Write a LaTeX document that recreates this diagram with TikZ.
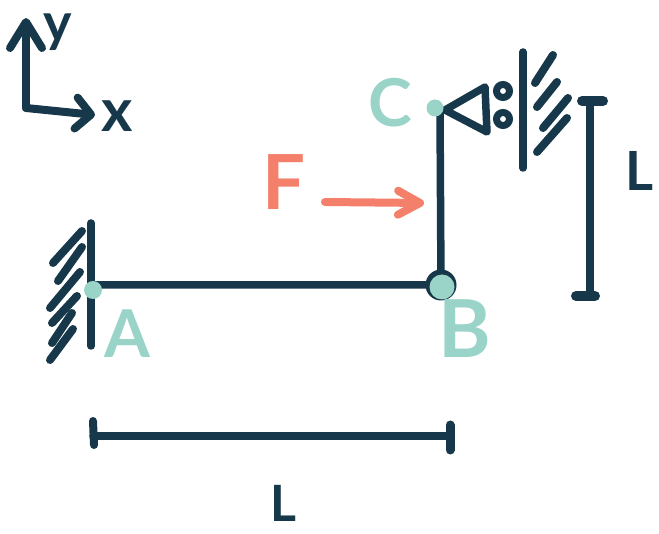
\documentclass[tikz,border=0pt]{standalone}
\usepackage{fontspec}
\setmainfont{Lato}
\usetikzlibrary{arrows.meta}
\definecolor{navy}{HTML}{16384A}
\definecolor{mint}{HTML}{9AD4C9}
\definecolor{coral}{HTML}{F47F6B}

\begin{document}
\begin{tikzpicture}[x=1pt,y=-1pt,% pixel coordinates of the sketch, y going down
	every node/.style={inner sep=0pt,outer sep=0pt},
	beam/.style={draw=navy,line width=7.5pt,line cap=round,line join=round},
	hatch/.style={draw=navy,line width=8pt,line cap=round},
	joint/.style={circle,fill=mint,minimum size=#1},
	roller/.style={circle,draw=navy,line width=7pt,minimum size=13pt},
	navytext/.style={text=navy,font=\fontsize{#1}{#1}\selectfont\bfseries},
	minttext/.style={text=mint,font=\fontsize{#1}{#1}\selectfont\bfseries},
	]
	\useasboundingbox (0,0) rectangle (659,534);

	% axes
	\coordinate (O) at (26,108);
	\coordinate (Y) at (26,18);
	\coordinate (X) at (95,115);
	\draw[beam,line width=8pt,-{Straight Barb[round,length=26pt,width=32pt]}] (O) -- (Y);
	\draw[beam,line width=8pt,-{Straight Barb[round,length=15pt,width=31pt]}] (O) -- (X);
	\node[navytext=54] (ylabel) at (58,32) {y};
	\node[navytext=60] (xlabel) at (117,116) {x};

	% beam
	\coordinate (A) at (92,285);
	\coordinate (B) at (441,285);
	\coordinate (C) at (440,110);
	\draw[beam] (A) -- (B) -- (C);

	% wall at A
	\coordinate (WA1) at (91,223);
	\coordinate (WA2) at (91,346);
	\draw[beam] (WA1) -- (WA2);
	\foreach \xa/\ya/\xb/\yb in {82/231/53/263,82/247/58/281,80/272/50/308,77/296/52/323,72/313/52/343,73/329/50/360}
		\draw[hatch] (\xa,\ya) -- (\xb,\yb);

	% roller at C
	\coordinate (T1) at (445,110);
	\coordinate (T2) at (485,87);
	\coordinate (T3) at (487,132);
	\draw[beam] (T1) -- (T2) -- (T3) -- cycle;
	\node[roller] (R1) at (503,91) {};
	\node[roller] (R2) at (503,119) {};
	\coordinate (WC1) at (523,52);
	\coordinate (WC2) at (523,168);
	\draw[beam] (WC1) -- (WC2);
	\foreach \xa/\ya/\xb/\yb in {553/55/535/83,557/82/537/107,568/98/543/128,567/118/537/152}
		\draw[hatch] (\xa,\ya) -- (\xb,\yb);

	% joints
	\node[circle,fill=navy,minimum size=31pt] (Bback) at (441,285) {};
	\node[joint=25pt] (Bdot) at (442,287) {};
	\node[joint=18pt] (Adot) at (93,290) {};
	\node[joint=17pt] (Cdot) at (435,108) {};
	\node[minttext=66] (Alabel) at (127,334) {A};
	\node[minttext=80] (Blabel) at (465,329) {B};
	\node[minttext=66] (Clabel) at (390,103) {C};

	% load
	\coordinate (F1) at (325,202);
	\coordinate (F2) at (424,203);
	\draw[line width=8pt,draw=coral,line cap=round,line join=round,-{Straight Barb[round,length=22pt,width=24pt]}] (F1) -- (F2);
	\node[text=coral,font=\fontsize{76}{76}\selectfont\bfseries] (Flabel) at (284,182) {F};

	% dimension on the right
	\coordinate (D1) at (590,102);
	\coordinate (D2) at (590,296);
	\coordinate (D3) at (582,101);
	\coordinate (D4) at (603,101);
	\coordinate (D5) at (576,296);
	\coordinate (D6) at (595,296);
	\draw[beam] (D1) -- (D2);
	\draw[beam,line width=10pt] (D3) -- (D4);
	\draw[beam,line width=10pt] (D5) -- (D6);
	\node[navytext=54] (Lright) at (640,171) {L};

	% dimension below
	\coordinate (E1) at (93,436);
	\coordinate (E2) at (450,436);
	\coordinate (E3) at (93,421);
	\coordinate (E4) at (94,445);
	\coordinate (E5) at (450,425);
	\coordinate (E6) at (450,450);
	\draw[beam] (E1) -- (E2);
	\draw[beam,line width=8pt] (E3) -- (E4);
	\draw[beam,line width=9pt] (E5) -- (E6);
	\node[navytext=50] (Lbottom) at (283,503) {L};
\end{tikzpicture}
\end{document}
